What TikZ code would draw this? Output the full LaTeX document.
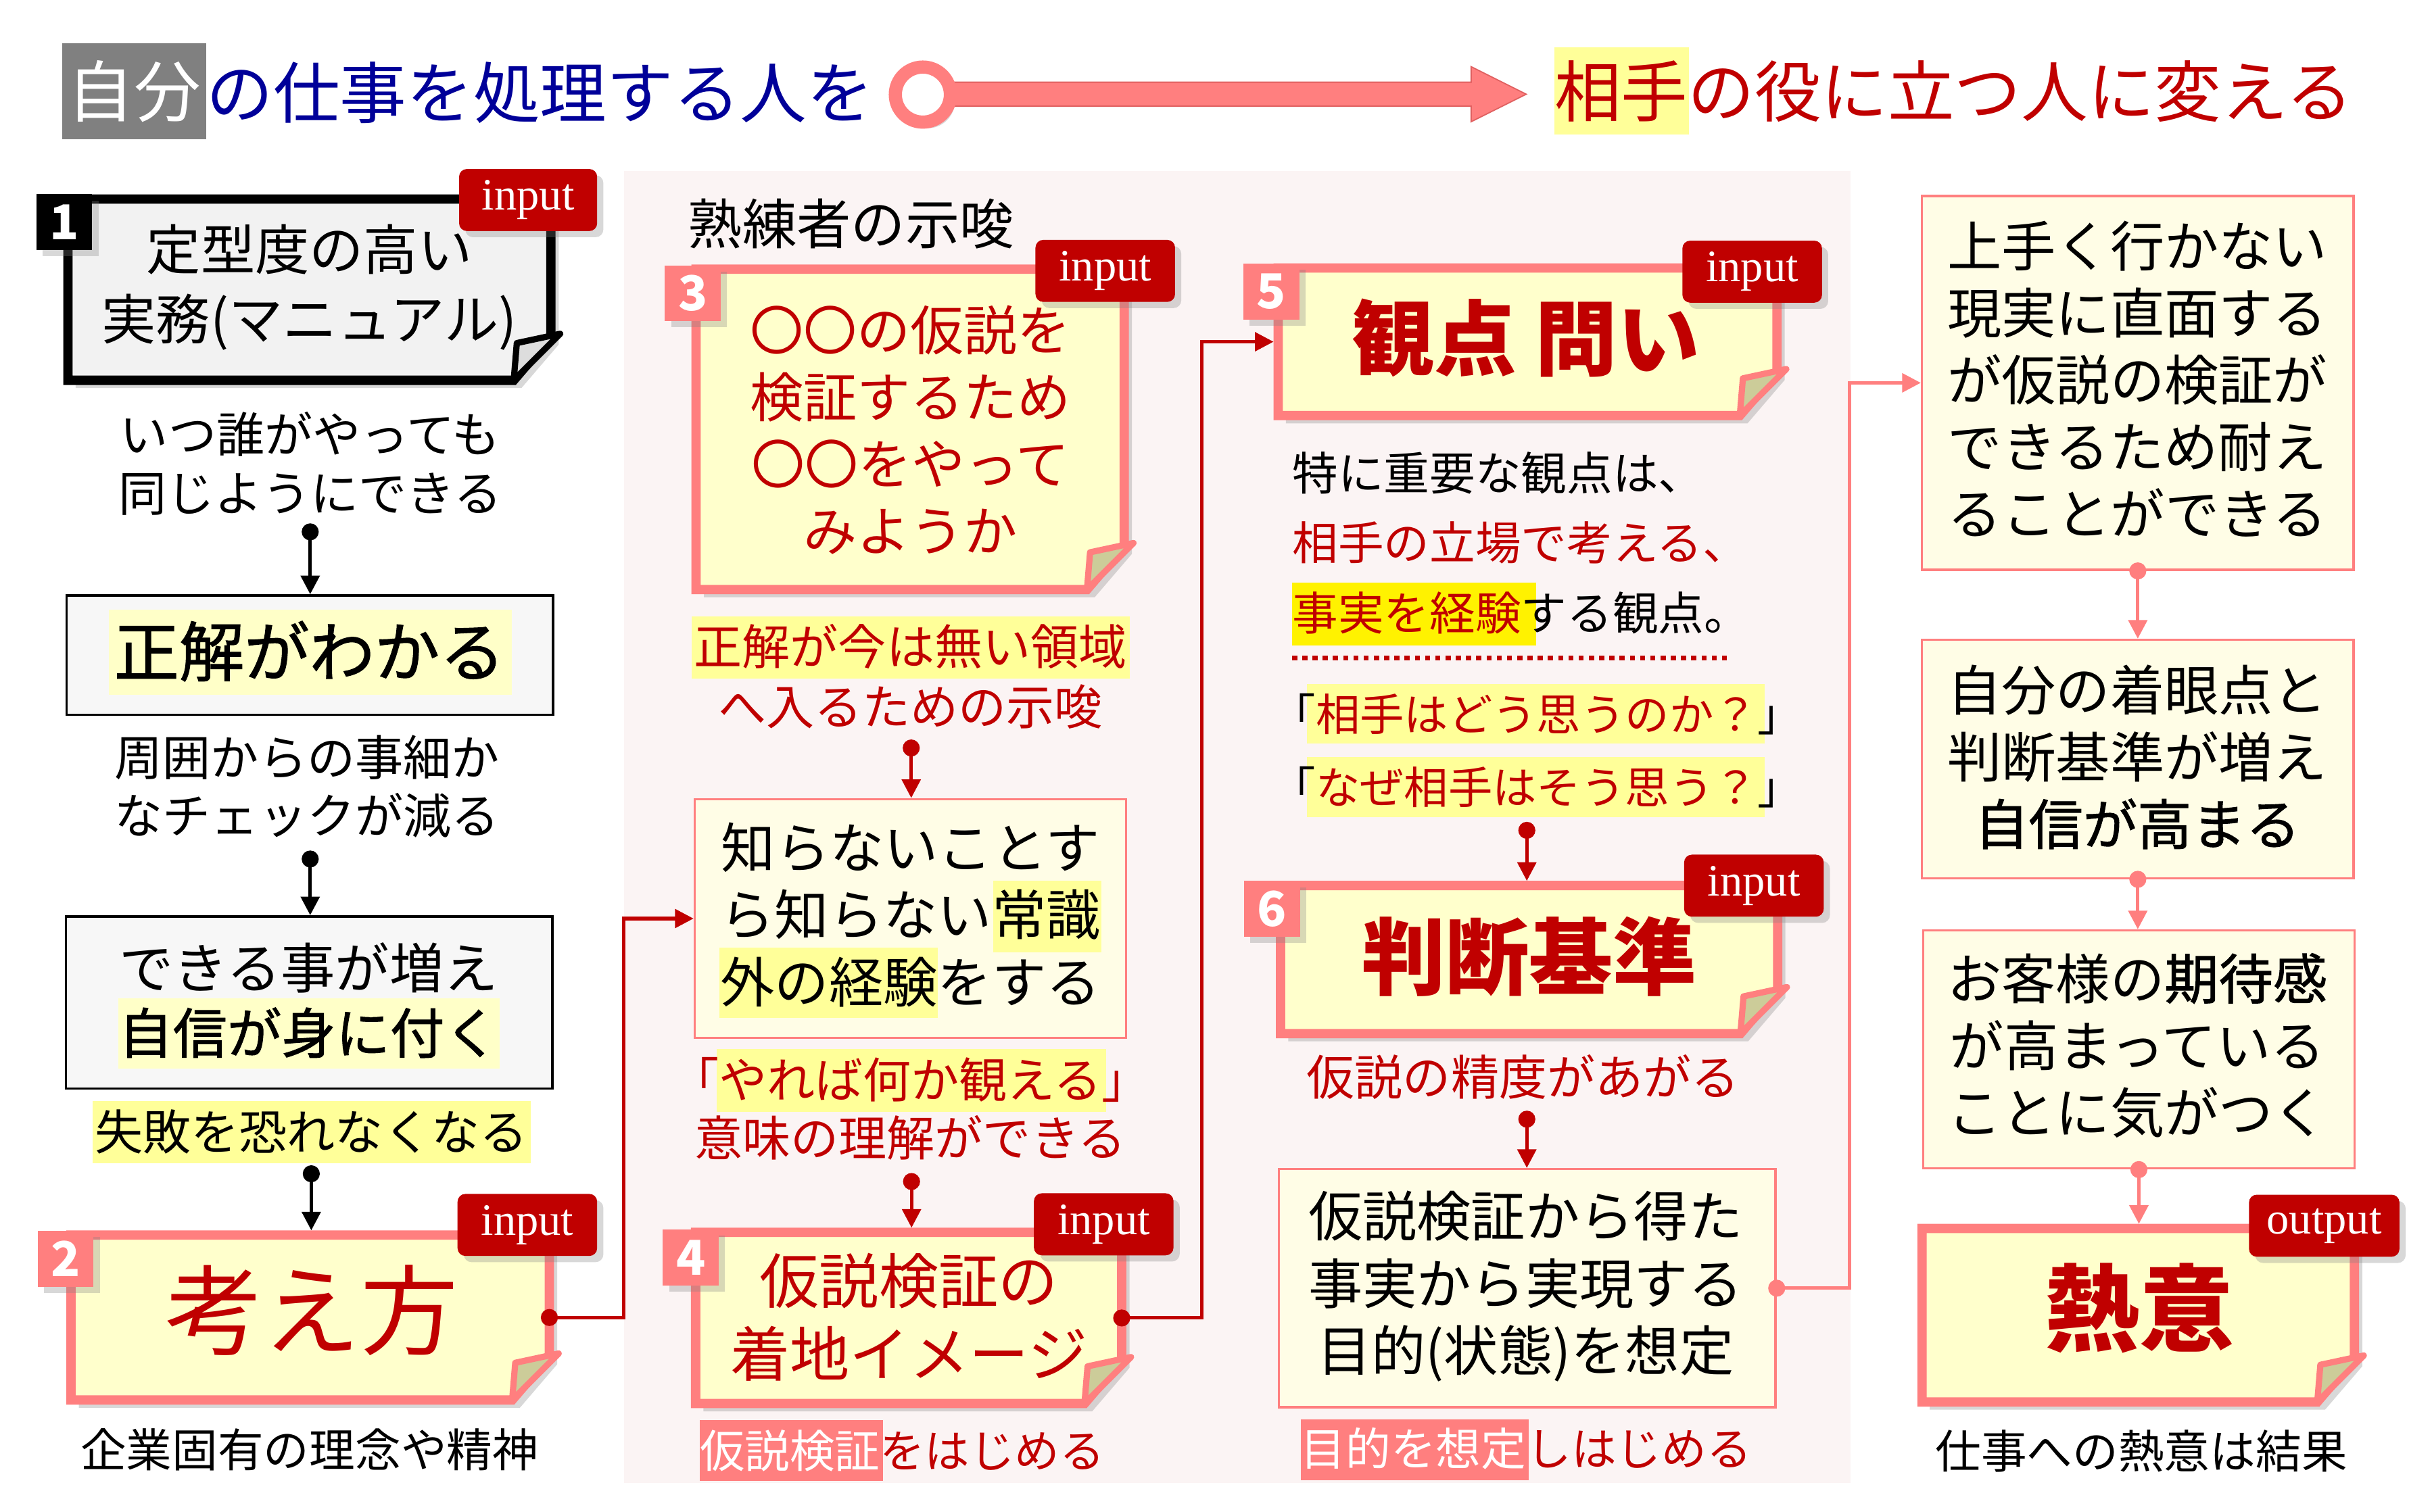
\documentclass[tikz,border=0pt]{standalone}
\usepackage{fontspec}
\setmainfont{Noto Sans CJK JP}
\newfontfamily\semib[FakeBold=1.2]{Noto Sans CJK JP}
\newfontfamily\tagfont{Liberation Serif}
\usetikzlibrary{arrows.meta,shadows,calc}
\definecolor{dred}{HTML}{C00000}
\definecolor{pk}{HTML}{FF7F7F}
\definecolor{pkedge}{HTML}{E06060}
\definecolor{notefill}{HTML}{FFFFCC}
\definecolor{cream}{HTML}{FFFDE6}
\definecolor{hly}{HTML}{FFFF99}
\definecolor{hlpale}{HTML}{FFFFC8}
\definecolor{panelc}{HTML}{FBF4F4}
\definecolor{tblue}{HTML}{000099}
\definecolor{flapc}{HTML}{CCCC99}
\definecolor{flapg}{HTML}{DDDDDD}
\definecolor{grayfill}{HTML}{F2F2F2}
\definecolor{boxgray}{HTML}{F7F7F7}
\definecolor{titlegray}{HTML}{808080}
\tikzset{
  fsz/.style 2 args={font=\fontsize{#1}{#2}\selectfont},
  sbox/.style={draw=#1, line width=1.5pt, inner sep=0pt},
  tagbox/.style={fill=dred, rounded corners=5pt, text=white, font=\tagfont\fontsize{29}{29}\selectfont, minimum height=40, inner sep=0pt, drop shadow={shadow xshift=4pt,shadow yshift=-4pt,opacity=0.3}},
  numsq/.style={fill=#1, text=white, minimum size=36, inner sep=0pt, font=\bfseries\fontsize{31}{31}\selectfont, drop shadow={shadow xshift=4pt,shadow yshift=-4pt,opacity=0.3}},
  dotn/.style={circle, fill=#1, minimum size=11, inner sep=0pt},
  conn/.style={draw=#1, line width=2.2pt, -{Triangle[width=12pt,length=12pt]}},
  hl/.style={fill=#1, anchor=north west, inner sep=0pt},
}
\newcommand\notedraw[4]{%
  \path[draw=#2, fill=#3, line width=6pt, line join=miter, drop shadow={shadow xshift=5pt,shadow yshift=-5pt,opacity=0.3}]
    (#1.north west) -- (#1.north east) -- ($(#1.south east)+(0,-28)$) -- ($(#1.south east)+(-24,0)$) -- (#1.south west) -- cycle;
  \path[draw=#2, fill=#4, line width=4pt, line join=round]
    ($(#1.south east)+(-24,0)$) -- ($(#1.south east)+(-22,-24)$) -- ($(#1.south east)+(6,-30)$) -- cycle;
}
\begin{document}
\begin{tikzpicture}[x=1pt,y=-1pt, every node/.style={inner sep=0pt}]
\useasboundingbox (0,0) rectangle (1568,975);
\fill[white] (0,0) rectangle (1568,975);
% panel
\node[fill=panelc, minimum width=791, minimum height=846, anchor=north west] (panel) at (402,110) {};
% title
\node[fill=titlegray, text=white, minimum width=93, minimum height=62, fsz={43}{43}] (tA) at (86.5,59) {自分};
\node[anchor=west, text=tblue, fsz={43}{43}] (tB) at (133,60) {の仕事を処理する人を};
\node[hl=hly, minimum width=86.5, minimum height=56] (hT) at (1002,30.5) {};
\node[anchor=west, text=dred, fsz={43}{43}] (tC) at (1002,59) {相手の役に立つ人に変える};
\path[fill=pk, draw=pkedge, line width=0.8pt] (612,53) -- (948.5,53) -- (948.5,43) -- (984,60.75) -- (948.5,78.5) -- (948.5,68.5) -- (612,68.5) -- cycle;
\node[circle, draw=pk, line width=8.5pt, fill=white, minimum size=35.5, drop shadow={shadow xshift=3pt,shadow yshift=-4pt,opacity=0.3}] (circ) at (595,61) {};
% note nodes
\node[minimum width=311, minimum height=116.5] (n1) at (199.5,186.8) {};
\node[minimum width=308, minimum height=106] (n2) at (200,849.7) {};
\node[minimum width=275.6, minimum height=206.2] (n3) at (586.8,276.9) {};
\node[minimum width=274.3, minimum height=110] (n4) at (585.85,850) {};
\node[minimum width=321.2, minimum height=94.8] (n5) at (984.9,220.4) {};
\node[minimum width=320.1, minimum height=95.1] (n6) at (985.85,618.85) {};
\node[minimum width=278.4, minimum height=111.5] (n7) at (1378.6,848.25) {};
\notedraw{n1}{black}{grayfill}{flapg}
\notedraw{n2}{pk}{notefill}{flapc}
\notedraw{n3}{pk}{notefill}{flapc}
\notedraw{n4}{pk}{notefill}{flapc}
\notedraw{n5}{pk}{notefill}{flapc}
\notedraw{n6}{pk}{notefill}{flapc}
\notedraw{n7}{pk}{notefill}{flapc}
% plain boxes
\node[sbox=black, fill=boxgray, minimum width=313.6, minimum height=77] (b1a) at (199.8,422.5) {};
\node[sbox=black, fill=boxgray, minimum width=313.5, minimum height=111] (b1b) at (199.3,646.5) {};
\node[sbox=pk, fill=cream, minimum width=278, minimum height=154] (c2) at (586.9,592.4) {};
\node[sbox=pk, fill=cream, minimum width=320.3, minimum height=153.6] (c3) at (984.6,830.8) {};
\node[sbox=pk, fill=cream, minimum width=278.3, minimum height=241.1] (d1) at (1378.3,246.9) {};
\node[sbox=pk, fill=cream, minimum width=278.3, minimum height=153.7] (d2) at (1378.3,489.5) {};
\node[sbox=pk, fill=cream, minimum width=278, minimum height=153.5] (d3) at (1379,676.8) {};
% tags
\node[tagbox, minimum width=89] (g1) at (340.5,129) {input};
\node[tagbox, minimum width=90] (g2) at (340,790) {input};
\node[tagbox, minimum width=90] (g3) at (712.6,174.7) {input};
\node[tagbox, minimum width=90] (g4) at (711.6,789.6) {input};
\node[tagbox, minimum width=90] (g5) at (1129.7,175.2) {input};
\node[tagbox, minimum width=90] (g6) at (1130.8,571.2) {input};
\node[tagbox, minimum width=97] (g7) at (1498.5,790.5) {output};
% number squares
\node[numsq=black] (s1) at (41.5,143.3) {1};
\node[numsq=pk] (s2) at (42.3,811.8) {2};
\node[numsq=pk] (s3) at (446.7,189.1) {3};
\node[numsq=pk] (s4) at (445.4,811) {4};
\node[numsq=pk] (s5) at (819.7,188) {5};
\node[numsq=pk] (s6) at (820.1,586.2) {6};
% highlights
\node[hl=hlpale, minimum width=260, minimum height=55] (h1) at (70,393) {};
\node[hl=hlpale, minimum width=246, minimum height=45.5] (h2) at (76,643.5) {};
\node[hl=hly, minimum width=282.6, minimum height=40] (h3) at (59.4,709.8) {};
\node[hl=hly, minimum width=282.8, minimum height=40] (h4) at (445.6,397.3) {};
\node[hl=hly, minimum width=70, minimum height=46.2] (h5) at (640,567.6) {};
\node[hl=hly, minimum width=140.8, minimum height=45.5] (h6) at (463.7,610.8) {};
\node[hl=hly, minimum width=251, minimum height=40.6] (h7) at (462,676.4) {};
\node[hl=pk, minimum width=118.3, minimum height=39.5] (h8) at (451,915.5) {};
\node[hl=yellow, minimum width=157, minimum height=40.3] (h9) at (833,375.7) {};
\node[hl=hly, minimum width=294.8, minimum height=38.4] (h10) at (842.6,441) {};
\node[hl=hly, minimum width=294.8, minimum height=38.6] (h11) at (842.6,488) {};
\node[hl=pk, minimum width=147.1, minimum height=38.9] (h12) at (838.3,915.4) {};
% column 1 texts
\node[align=center, fsz={35}{44.5}] (n1t) at (199.5,185.3) {定型度の高い\\実務(マニュアル)};
\node[align=center, fsz={31}{38}] (t1) at (200,299) {いつ誰がやっても\\同じようにできる};
\node[fsz={42}{42}] (b1at) at (199.5,420) {\semib 正解がわかる};
\node[align=center, fsz={31}{37.5}] (t2) at (198,507.2) {周囲からの事細か\\なチェックが減る};
\node[align=center, fsz={35}{42}] (b1bt) at (199,645) {できる事が増え\\\semib 自信が身に付く};
\node[fsz={31}{31}] (t3) at (200.7,730) {失敗を恐れなくなる};
\node[fsz={63}{63}, text=dred] (n2t) at (201,845) {考え方};
\node[fsz={29.5}{29.5}] (t4) at (199.5,935) {企業固有の理念や精神};
% column 2 texts
\node[fsz={35}{35}] (t5) at (548.7,144.5) {熟練者の示唆};
\node[align=center, fsz={34.5}{43.1}, text=dred] (n3t) at (587,277.3) {〇〇の仮説を\\検証するため\\〇〇をやって\\みようか};
\node[align=center, fsz={31}{38.6}, text=dred] (t6) at (587,436.3) {正解が今は無い領域\\へ入るための示唆};
\node[align=center, fsz={35}{43.2}] (c2t) at (587,590) {知らないことす\\ら知らない常識\\外の経験をする};
\node[align=center, fsz={31}{37.6}, text=dred] (t7) at (587,715.2) {「やれば何か観える」\\意味の理解ができる};
\node[align=center, fsz={38.5}{47.3}, text=dred] (n4t) at (586,849.4) {仮説検証の\\着地イメージ};
\node[anchor=west, fsz={29}{29}, text=dred] (t8) at (451,935.5) {\textcolor{white}{仮説検証}をはじめる};
% column 3 texts
\node[fsz={53}{53}, text=dred] (n5t) at (983.7,218) {\bfseries 観点 問い};
\node[align=left, anchor=west, fsz={29.5}{45.1}] (t9) at (833,350) {特に重要な観点は、\\\textcolor{dred}{相手の立場で考える、}\\\textcolor{dred}{事実を経験}する観点。};
\draw[dred, line width=3.3pt, dash pattern=on 3.3pt off 3.3pt] (833,424.3) -- (1116.4,424.3);
\node[align=center, fsz={28.5}{47.2}, text=dred] (t10) at (990.8,484.1) {\textcolor{black}{「}相手はどう思うのか？\textcolor{black}{」}\\\textcolor{black}{「}なぜ相手はそう思う？\textcolor{black}{」}};
\node[fsz={54}{54}, text=dred] (n6t) at (986,616.7) {\bfseries 判断基準};
\node[fsz={31}{31}, text=dred] (t11) at (982,694.5) {仮説の精度があがる};
\node[align=center, fsz={35}{43.5}] (c3t) at (983.5,829.6) {仮説検証から得た\\事実から実現する\\目的(状態)を想定};
\node[anchor=west, fsz={29.1}{29.1}, text=dred] (t12) at (838.3,934.3) {\textcolor{white}{目的を想定}しはじめる};
% column 4 texts
\node[align=center, fsz={35}{43.1}] (d1t) at (1378,244.3) {上手く行かない\\現実に直面する\\が仮説の検証が\\できるため耐え\\ることができる};
\node[align=center, fsz={35}{43.1}] (d2t) at (1378,488.3) {自分の着眼点と\\判断基準が増え\\\semib 自信が高まる};
\node[align=center, fsz={35}{43.2}] (d3t) at (1378,674.3) {お客様の{\semib 期待感}\\が高まっている\\ことに気がつく};
\node[fsz={61}{61}, text=dred] (n7t) at (1379.5,843.6) {\bfseries 熱意};
\node[fsz={29.5}{29.5}] (t13) at (1380.6,935.7) {仕事への熱意は結果};
% connectors
\node[dotn=black] (p1) at (200,343) {};
\draw[conn=black] (p1.center) -- (p1 |- b1a.north);
\node[dotn=black] (p2) at (200,554) {};
\draw[conn=black] (p2.center) -- (p2 |- b1b.north);
\node[dotn=black] (p3) at (200.7,757) {};
\draw[conn=black, shorten >=3pt] (p3.center) -- (p3 |- n2.north);
\node[dotn=dred] (p4) at (n2.east) {};
\draw[conn=dred] (p4.center) -- ++(48,0) |- (c2.west);
\node[dotn=dred] (p5) at (587.5,482.4) {};
\draw[conn=dred] (p5.center) -- (p5 |- c2.north);
\node[dotn=dred] (p6) at (587.7,762) {};
\draw[conn=dred, shorten >=3pt] (p6.center) -- (p6 |- n4.north);
\node[dotn=dred] (p7) at (n4.east) {};
\draw[conn=dred, shorten >=3pt] (p7.center) -- ++(51.6,0) |- (n5.west);
\node[dotn=dred] (p8) at (984.4,535.5) {};
\draw[conn=dred, shorten >=3pt] (p8.center) -- (p8 |- n6.north);
\node[dotn=dred] (p9) at (984.4,721.8) {};
\draw[conn=dred] (p9.center) -- (p9 |- c3.north);
\node[dotn=pk] (p10) at (c3.east) {};
\draw[conn=pk] (p10.center) -- ++(47.1,0) |- (d1.west);
\node[dotn=pk] (p11) at (d1.south) {};
\draw[conn=pk] (p11.center) -- (p11 |- d2.north);
\node[dotn=pk] (p12) at (d2.south) {};
\draw[conn=pk] (p12.center) -- (p12 |- d3.north);
\node[dotn=pk] (p13) at (d3.south) {};
\draw[conn=pk, shorten >=3pt] (p13.center) -- (p13 |- n7.north);
\end{tikzpicture}
\end{document}
